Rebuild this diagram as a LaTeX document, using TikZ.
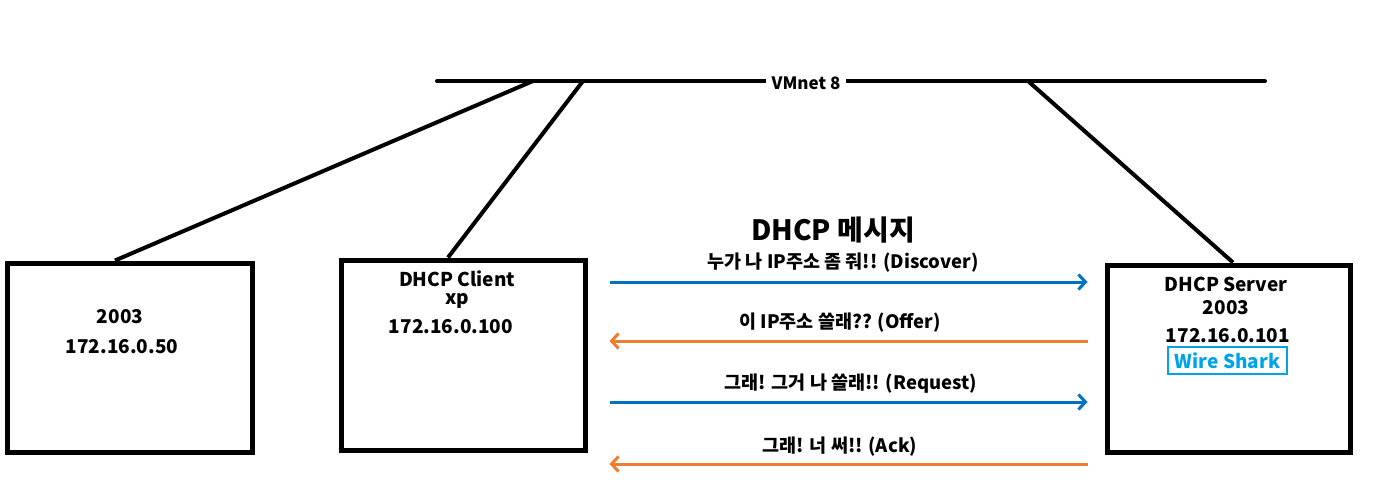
\documentclass[tikz,border=0pt]{standalone}
\usepackage{fontspec}
\setmainfont{Noto Sans CJK KR}
\usepackage{tikz}
\usetikzlibrary{positioning,arrows.meta}

\definecolor{reqblue}{RGB}{0,112,192}
\definecolor{ansorange}{RGB}{237,125,49}
\definecolor{sharkcyan}{RGB}{0,162,232}

\begin{document}
\begin{tikzpicture}[x=1pt, y=-1pt,
hostbox/.style={rectangle, draw=black, line width=5pt, inner sep=0pt},
hosttext/.style={font=\fontsize{19}{21}\selectfont\bfseries, inner sep=0pt, anchor=center},
msglabel/.style={font=\fontsize{18.5}{20}\selectfont\bfseries, inner sep=0pt, anchor=center},
wire/.style={line width=4pt, line cap=round},
reqarrow/.style={draw=reqblue, line width=3pt, -{Straight Barb[length=7pt, width=15pt]}},
ansarrow/.style={draw=ansorange, line width=3pt, -{Straight Barb[length=7pt, width=15pt]}},
]
\useasboundingbox (0,0) rectangle (1377,487);

%Bus
\coordinate (busL) at (437,81);
\coordinate (busR) at (1265,81);
\coordinate (tapA) at (533,81);
\coordinate (tapB) at (583,81);
\coordinate (tapC) at (1028,81);
\draw[wire] (busL) -- (busR);
\node[fill=white, inner xsep=6pt, inner ysep=2pt, font=\fontsize{17}{19}\selectfont\bfseries] (vmnet) at (806,83) {VMnet 8};

%Hosts
\node[hostbox, minimum width=245pt, minimum height=189pt] (pcA) at (129.5,357.5) {};
\node[hostbox, minimum width=244pt, minimum height=190pt] (client) at (463,355) {};
\node[hostbox, minimum width=243pt, minimum height=187pt] (server) at (1228.5,358.5) {};

\node[hosttext] (pcAos) at (120,317) {2003};
\node[hosttext] (pcAip) at (122,347) {172.16.0.50};

\node[hosttext] (clname) at (457,279) {DHCP Client};
\node[hosttext] (clos) at (457,301) {xp};
\node[hosttext] (clip) at (451,327) {172.16.0.100};

\node[hosttext] (svname) at (1226,284) {DHCP Server};
\node[hosttext] (svos) at (1226,308) {2003};
\node[hosttext] (svip) at (1228,336) {172.16.0.101};
\node[hosttext, draw=sharkcyan, text=sharkcyan, line width=2pt, minimum width=119pt, minimum height=27pt] (shark) at (1227.5,360.5) {Wire Shark};

%Drops
\draw[wire, line cap=butt] (tapA) -- ([xshift=-14.5pt]pcA.north);
\draw[wire, line cap=butt] (tapB) -- ([xshift=-15pt]client.north);
\draw[wire, line cap=butt] (tapC) -- ([xshift=4.5pt]server.north);

%Messages
\node[font=\fontsize{28}{30}\selectfont\bfseries, inner sep=0pt] (title) at (833,230) {DHCP 메시지};

\coordinate (m1) at (0,282);
\coordinate (m2) at (0,341);
\coordinate (m3) at (0,402);
\coordinate (m4) at (0,464);

\draw[reqarrow, shorten <=22pt, shorten >=17pt] (client.east |- m1) -- (server.west |- m1);
\draw[ansarrow, shorten <=17pt, shorten >=22pt] (server.west |- m2) -- (client.east |- m2);
\draw[reqarrow, shorten <=22pt, shorten >=17pt] (client.east |- m3) -- (server.west |- m3);
\draw[ansarrow, shorten <=17pt, shorten >=22pt] (server.west |- m4) -- (client.east |- m4);

\node[msglabel] (discover) at (843,263) {누가 나 IP주소 좀 줘!! (Discover)};
\node[msglabel] (offer) at (840,323) {이 IP주소 쓸래?? (Offer)};
\node[msglabel] (request) at (851,384) {그래! 그거 나 쓸래!! (Request)};
\node[msglabel] (ack) at (840,447) {그래! 너 써!! (Ack)};
\end{tikzpicture}
\end{document}
